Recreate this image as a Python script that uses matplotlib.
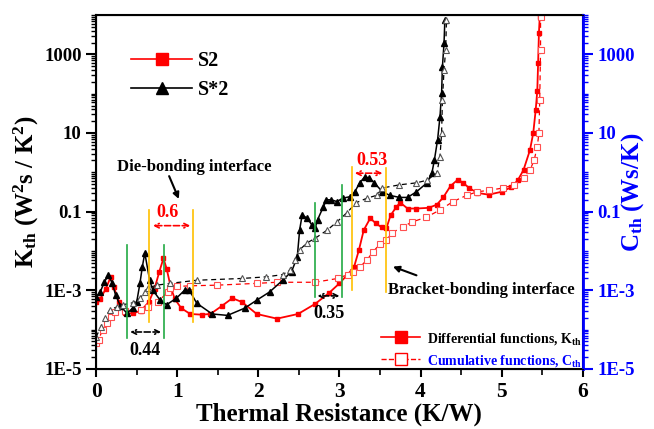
"""
Thermal structure functions (differential K_th and cumulative C_th) for S2 and S*2
"""

import numpy as np
import matplotlib
matplotlib.use("Agg")
import matplotlib.pyplot as plt
from matplotlib.lines import Line2D
from matplotlib.ticker import FixedLocator, LogLocator, NullFormatter

plt.rcParams['font.family'] = 'Liberation Serif'
plt.rcParams['font.weight'] = 'bold'
plt.rcParams['mathtext.fontset'] = 'custom'
plt.rcParams['mathtext.rm'] = 'Liberation Serif:bold'
plt.rcParams['mathtext.it'] = 'Liberation Serif:bold'
plt.rcParams['mathtext.bf'] = 'Liberation Serif:bold'
plt.rcParams['mathtext.default'] = 'rm'

# S2 differential function K_th
r_s2_k = [0.0, 0.05, 0.12, 0.18, 0.22, 0.28, 0.36, 0.45, 0.55, 0.65, 0.72, 0.78, 0.83, 0.87,
          0.92, 0.97, 1.05, 1.16, 1.3, 1.41, 1.55, 1.68, 1.8, 1.98, 2.23, 2.49, 2.7, 2.87,
          3.0, 3.1, 3.18, 3.24, 3.3, 3.38, 3.45, 3.52, 3.58, 3.63, 3.7, 3.75, 3.84, 3.95,
          4.1, 4.2, 4.28, 4.37, 4.46, 4.52, 4.6, 4.7, 4.84, 5.0, 5.12, 5.2, 5.27, 5.35,
          5.39, 5.42, 5.44, 5.45, 5.46, 5.47]
k_s2 = [5e-4, 6e-4, 1.1e-3, 2.2e-3, 1.2e-3, 5e-4, 2.6e-4, 2.6e-4, 3.0e-4, 5e-4, 1.1e-3, 3e-3,
        6.5e-3, 3.5e-3, 1.2e-3, 6e-4, 3.5e-4, 2.5e-4, 2.4e-4, 2.5e-4, 4e-4, 6.3e-4, 5e-4,
        2.5e-4, 1.9e-4, 2.5e-4, 4.5e-4, 8.5e-4, 1.5e-3, 2.5e-3, 3.9e-3, 1.05e-2, 3.4e-2,
        6.8e-2, 5e-2, 4e-2, 3.8e-2, 8e-2, 0.13, 0.17, 0.12, 0.12, 0.125, 0.15, 0.23, 0.45,
        0.65, 0.55, 0.4, 0.3, 0.27, 0.32, 0.42, 0.63, 1.15, 3.7, 10, 38, 120, 600, 3500, 9000]

# S2 cumulative function C_th
r_s2_c = [0.0, 0.03, 0.08, 0.14, 0.18, 0.23, 0.35, 0.55, 0.64, 0.76, 0.88, 0.91, 1.0, 1.16,
          1.49, 1.98, 2.23, 2.7, 2.98, 3.1, 3.17, 3.25, 3.34, 3.41, 3.5, 3.58, 3.65, 3.78,
          3.9, 4.07, 4.24, 4.4, 4.57, 4.7, 4.85, 5.02, 5.15, 5.27, 5.35, 5.4, 5.44, 5.46,
          5.47, 5.48, 5.48]
c_s2 = [4.5e-5, 5.5e-5, 1.0e-4, 1.5e-4, 2.1e-4, 2.8e-4, 3.0e-4, 3.2e-4, 3.8e-4, 5e-4, 9e-4,
        1.15e-3, 1.25e-3, 1.3e-3, 1.35e-3, 1.5e-3, 1.6e-3, 1.6e-3, 2.0e-3, 2.5e-3, 2.95e-3,
        3.9e-3, 5.9e-3, 9.3e-3, 1.5e-2, 1.9e-2, 2.9e-2, 4.1e-2, 5.5e-2, 7.2e-2, 0.11, 0.18,
        0.26, 0.32, 0.35, 0.40, 0.48, 0.72, 1.15, 2.0, 4.5, 10, 70, 1300, 9000]

# S*2 differential function K_th
r_ss2_k = [0.0, 0.05, 0.1, 0.15, 0.2, 0.24, 0.3, 0.38, 0.45, 0.5, 0.54, 0.57, 0.6, 0.66, 0.7,
           0.79, 0.87, 0.99, 1.09, 1.15, 1.24, 1.43, 1.62, 1.83, 1.98, 2.14, 2.3, 2.41, 2.48,
           2.51, 2.54, 2.6, 2.66, 2.7, 2.73, 2.8, 2.84, 2.9, 2.97, 3.04, 3.13, 3.19, 3.25,
           3.31, 3.37, 3.43, 3.53, 3.62, 3.74, 3.84, 3.95, 4.08, 4.14, 4.17, 4.21, 4.24,
           4.26, 4.27, 4.29, 4.3]
k_ss2 = [6.8e-4, 9e-4, 1.6e-3, 2.4e-3, 1.5e-3, 7.5e-4, 4e-4, 2.6e-4, 3.5e-4, 5e-4, 1.5e-3,
         4e-3, 8.9e-3, 1.8e-3, 1e-3, 5.6e-4, 4.3e-4, 6.3e-4, 1.0e-3, 1.0e-3, 4.7e-4, 2.5e-4,
         2.3e-4, 3.5e-4, 5.6e-4, 9.1e-4, 1.8e-3, 3e-3, 7e-3, 3.5e-2, 8.1e-2, 6.9e-2, 4.6e-2,
         3.8e-2, 6.2e-2, 0.13, 0.2, 0.2, 0.18, 0.22, 0.24, 0.32, 0.54, 0.76, 0.72, 0.54, 0.32,
         0.26, 0.23, 0.23, 0.32, 0.54, 0.95, 2.0, 6.6, 26, 105, 480, 1950, 7400]

# S*2 cumulative function C_th
r_ss2_c = [0.0, 0.06, 0.11, 0.17, 0.26, 0.33, 0.45, 0.54, 0.6, 0.64, 0.75, 0.91, 1.24, 1.8,
           2.1, 2.3, 2.39, 2.45, 2.51, 2.6, 2.7, 2.85, 2.97, 3.09, 3.21, 3.34, 3.46, 3.53,
           3.74, 3.95, 4.08, 4.2, 4.24, 4.26, 4.27, 4.29, 4.31, 4.32]
c_ss2 = [6.5e-5, 1.2e-4, 2.0e-4, 3.2e-4, 3.8e-4, 4.3e-4, 4.8e-4, 6.3e-4, 9e-4, 1.15e-3,
         1.35e-3, 1.5e-3, 1.8e-3, 2.0e-3, 2.2e-3, 2.5e-3, 3.3e-3, 5.9e-3, 1.07e-2, 1.6e-2,
         2.1e-2, 3.4e-2, 5.5e-2, 9.3e-2, 0.17, 0.22, 0.26, 0.4, 0.48, 0.54, 0.63, 0.95, 2.5,
         10, 70, 400, 1300, 7500]

y_ticks = [1e-5, 1e-3, 0.1, 10, 1000]
y_tick_labels = ['1E-5', '1E-3', '0.1', '10', '1000']

fig = plt.figure(figsize=(6.54, 4.29), dpi=100)
ax = fig.add_axes([0.147, 0.14, 0.744, 0.825])

ax.plot(r_s2_k, k_s2, '-', color='red', lw=1.3, marker='s', ms=3.5, mec='red', mfc='red')
ax.plot(r_s2_c, c_s2, '--', color='red', lw=0.9, marker='s', ms=4, mec='#ff5050',
        mfc='white', mew=0.8, dashes=(4, 3))
ax.plot(r_ss2_k, k_ss2, '-', color='black', lw=1.1, marker='^', ms=4.5, mec='black', mfc='black')
ax.plot(r_ss2_c, c_ss2, '--', color='black', lw=0.9, marker='^', ms=4.5, mec='#555555',
        mfc='white', mew=0.8, dashes=(4, 3))

ax.set_yscale('log')
ax.set_xlim(0, 6)
ax.set_ylim(1e-5, 1e4)
ax.yaxis.set_major_locator(FixedLocator(y_ticks))
ax.set_yticklabels(y_tick_labels)
ax.yaxis.set_minor_locator(LogLocator(base=10, subs=np.arange(1, 10), numticks=60))
ax.yaxis.set_minor_formatter(NullFormatter())
ax.set_xticks(range(7))
ax.set_xticks(np.arange(0.5, 6, 1), minor=True)
ax.tick_params(axis='x', which='major', labelsize=15.5, length=6, width=1.5)
ax.tick_params(axis='x', which='minor', length=4, width=1.2)
ax.tick_params(axis='y', which='major', labelsize=13.5, length=7, width=1.5)
ax.tick_params(axis='y', which='minor', length=3.5, width=1)
for s in ax.spines.values():
    s.set_linewidth(1.5)

ax.set_xlabel('Thermal Resistance (K/W)', fontsize=18, fontweight='bold', labelpad=0)
ax.set_ylabel(r'K$_{\mathrm{th}}$ (W$^{2}$s / K$^{2}$)', fontsize=18, fontweight='bold', labelpad=2)

# right axis for C_th
ax2 = ax.twinx()
ax2.set_yscale('log')
ax2.set_ylim(1e-5, 1e4)
ax2.yaxis.set_major_locator(FixedLocator(y_ticks))
ax2.set_yticklabels(y_tick_labels)
ax2.yaxis.set_minor_locator(LogLocator(base=10, subs=np.arange(1, 10), numticks=60))
ax2.yaxis.set_minor_formatter(NullFormatter())
ax2.tick_params(axis='y', which='major', labelsize=13.5, length=7, width=1.5, colors='blue')
ax2.tick_params(axis='y', which='minor', length=3.5, width=1, colors='blue')
ax2.spines['right'].set_color('blue')
ax2.spines['right'].set_linewidth(2)
ax2.set_ylabel(r'C$_{\mathrm{th}}$ (Ws/K)', fontsize=18, fontweight='bold', color='blue')
ax2.yaxis.set_label_coords(1.075, 0.5)

# interface markers
def vline(x, y0, y1, c):
    ax.plot([x, x], [y0, y1], color=c, lw=1.2)

vline(0.38, 6.2e-5, 1.4e-2, '#22aa44')
vline(0.84, 6.2e-5, 1.4e-2, '#22aa44')
vline(0.65, 1.55e-4, 0.11, '#ffc000')
vline(1.2, 1.55e-4, 0.11, '#ffc000')
vline(2.7, 6.8e-4, 0.17, '#22aa44')
vline(3.03, 6.8e-4, 0.48, '#22aa44')
vline(3.15, 1.0e-3, 1.36, '#ffc000')
vline(3.57, 9.0e-4, 1.3, '#ffc000')

arr_red = dict(arrowstyle='<->', color='red', lw=1.2, linestyle='--', mutation_scale=8,
               shrinkA=0, shrinkB=0)
arr_blk = dict(arrowstyle='<->', color='black', lw=1.2, linestyle='--', mutation_scale=8,
               shrinkA=0, shrinkB=0)
ax.annotate('', xy=(0.7, 0.044), xytext=(1.16, 0.044), arrowprops=arr_red)
ax.annotate('', xy=(0.42, 8.7e-5), xytext=(0.8, 8.7e-5), arrowprops=arr_blk)
ax.annotate('', xy=(2.73, 7.2e-4), xytext=(3.0, 7.2e-4), arrowprops=arr_blk)
ax.annotate('', xy=(3.19, 0.95), xytext=(3.53, 0.95), arrowprops=arr_red)
ax.text(0.88, 0.093, '0.6', color='red', fontsize=13, fontweight='bold', ha='center', va='center')
ax.text(0.6, 3e-5, '0.44', color='black', fontsize=13, fontweight='bold', ha='center', va='center')
ax.text(2.87, 2.6e-4, '0.35', color='black', fontsize=13, fontweight='bold', ha='center', va='center')
ax.text(3.4, 2.0, '0.53', color='red', fontsize=13, fontweight='bold', ha='center', va='center')

ax.text(1.21, 1.36, 'Die-bonding interface', fontsize=12, fontweight='bold', ha='center', va='center')
ax.annotate('', xy=(1.02, 0.21), xytext=(0.9, 0.8),
            arrowprops=dict(arrowstyle='-|>', color='black', lw=1.5, mutation_scale=9,
                            shrinkA=0, shrinkB=0))
ax.text(4.75, 1.0e-3, 'Bracket-bonding interface', fontsize=12, fontweight='bold', ha='center', va='center')
ax.annotate('', xy=(3.66, 4.0e-3), xytext=(3.95, 2.4e-3),
            arrowprops=dict(arrowstyle='-|>', color='black', lw=1.5, mutation_scale=9,
                            shrinkA=0, shrinkB=0))

# legends
h1 = [Line2D([], [], color='red', lw=1.2, marker='s', ms=9, mfc='red', mec='red'),
      Line2D([], [], color='black', lw=1.2, marker='^', ms=9, mfc='black', mec='black')]
leg1 = ax.legend(h1, ['S2', 'S*2'], loc='upper left', bbox_to_anchor=(0.035, 0.95), frameon=False,
                 handlelength=3.0, fontsize=14.5, labelspacing=0.45, handletextpad=0.3)
ax.add_artist(leg1)

h2 = [Line2D([], [], color='red', lw=1.2, marker='s', ms=9, mfc='red', mec='red'),
      Line2D([], [], color='red', lw=1.0, ls='--', marker='s', ms=9, mfc='white', mec='red')]
leg2 = ax.legend(h2, [r'Differential functions, K$_{\mathrm{th}}$', r'Cumulative functions, C$_{\mathrm{th}}$'],
                 loc='lower left', bbox_to_anchor=(0.56, -0.035), frameon=False,
                 handlelength=2.8, fontsize=10, labelspacing=0.45, handletextpad=0.5)
leg2.get_texts()[1].set_color('blue')

fig.savefig('out.png', dpi=100)
